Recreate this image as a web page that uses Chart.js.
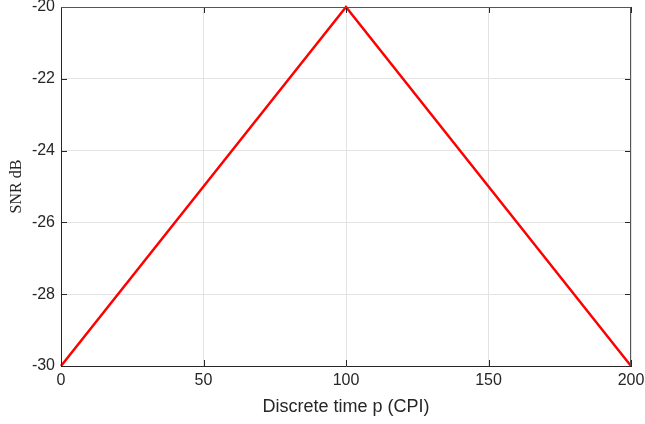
<!DOCTYPE html>
<html>
<head>
<meta charset="utf-8">
<script src="https://cdn.jsdelivr.net/npm/chart.js@4"></script>
<style>
    html, body { margin: 0; padding: 0; background: #fff; }
    #wrap { width: 645px; height: 424px; }
</style>
</head>
<body>
<div id="wrap"><canvas id="chart" width="645" height="424"></canvas></div>
<script>
// SNR profile over the CPIs
const timeSteps = [0, 100, 200];
const snrValues = [-30, -20, -30];

const xTicks = [0, 50, 100, 150, 200];
const yTicks = [-30, -28, -26, -24, -22, -20];

// MATLAB-ish box with inward ticks on every side
const boxPlugin = {
    id: 'box',
    afterDraw(chart) {
        const { ctx, chartArea: a, scales } = chart;
        const len = 6;
        ctx.save();
        ctx.lineWidth = 1;
        ctx.strokeStyle = '#262626';
        ctx.beginPath();
        xTicks.forEach(v => {
            let x = Math.round(scales.x.getPixelForValue(v)) + 0.5;
            ctx.moveTo(x, a.bottom); ctx.lineTo(x, a.bottom - len);
            ctx.moveTo(x, a.top); ctx.lineTo(x, a.top + len);
        });
        yTicks.forEach(v => {
            let y = Math.round(scales.y.getPixelForValue(v)) + 0.5;
            ctx.moveTo(a.left, y); ctx.lineTo(a.left + len, y);
            ctx.moveTo(a.right, y); ctx.lineTo(a.right - len, y);
        });
        ctx.stroke();
        ctx.strokeStyle = '#555';
        ctx.beginPath();
        ctx.moveTo(a.left, a.top + 0.5); ctx.lineTo(a.right, a.top + 0.5);
        ctx.moveTo(a.right - 0.5, a.top); ctx.lineTo(a.right - 0.5, a.bottom);
        ctx.stroke();
        ctx.restore();
    }
};

const config = {
    type: 'line',
    data: {
        datasets: [{
            data: timeSteps.map((t, i) => ({ x: t, y: snrValues[i] })),
            borderColor: '#ff0000',
            borderWidth: 2.5,
            pointRadius: 0,
            fill: false,
            tension: 0,
            clip: false
        }]
    },
    options: {
        responsive: false,
        animation: false,
        layout: { padding: { left: 0, top: 7, right: 14, bottom: 0 } },
        plugins: {
            legend: { display: false },
            tooltip: { enabled: false }
        },
        scales: {
            x: {
                type: 'linear',
                min: 0,
                max: 200,
                afterBuildTicks: s => { s.ticks = xTicks.map(v => ({ value: v })); },
                afterFit: s => { s.height = 58; s.paddingLeft = 0; s.paddingRight = 0; },
                grid: { color: '#e3e3e3', drawTicks: false },
                border: { color: '#262626', width: 1 },
                ticks: {
                    padding: 5,
                    color: '#262626',
                    font: { family: 'Liberation Sans, Arial, sans-serif', size: 16 },
                    maxRotation: 0
                },
                title: {
                    display: true,
                    text: 'Discrete time p (CPI)',
                    color: '#262626',
                    padding: { top: 0, bottom: 6 },
                    font: { family: 'Liberation Sans, Arial, sans-serif', size: 18 }
                }
            },
            y: {
                type: 'linear',
                min: -30,
                max: -20,
                afterBuildTicks: s => { s.ticks = yTicks.map(v => ({ value: v })); },
                afterFit: s => { s.width = 61; s.paddingTop = 0; s.paddingBottom = 0; },
                grid: { color: '#e3e3e3', drawTicks: false },
                border: { color: '#262626', width: 1 },
                ticks: {
                    padding: 6,
                    color: '#262626',
                    font: { family: 'Liberation Sans, Arial, sans-serif', size: 16 }
                },
                title: {
                    display: true,
                    text: 'SNR dB',
                    color: '#262626',
                    padding: { top: 7, bottom: 0 },
                    font: { family: 'Liberation Serif, Times New Roman, serif', size: 16 }
                }
            }
        }
    },
    plugins: [boxPlugin]
};

new Chart(document.getElementById('chart'), config);
</script>
</body>
</html>
